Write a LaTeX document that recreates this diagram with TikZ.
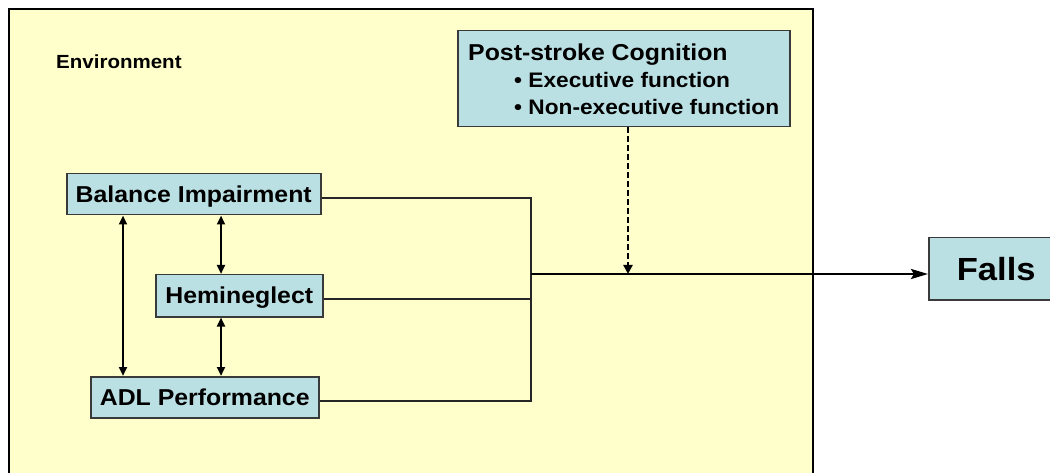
\documentclass[tikz,border=0pt]{standalone}
\usepackage{fontspec}
\setmainfont[FakeStretch=1.08]{Liberation Sans}
\usetikzlibrary{arrows.meta}
\definecolor{envyellow}{HTML}{FFFFCC}
\definecolor{boxblue}{HTML}{BBE0E3}
\definecolor{boxedge}{HTML}{3A3A3A}
\begin{document}
\begin{tikzpicture}[x=1pt,y=-1pt,
  cbox/.style={draw=boxedge, line width=1.5pt, fill=boxblue, inner sep=0pt, anchor=north west,
    text height=16.5pt, text depth=0pt,
    font=\bfseries\fontsize{23}{27}\selectfont},
  lbl/.style={inner sep=0pt, anchor=base west},
  conn/.style={draw=black!85, line width=1.8pt},
  dbl/.style={line width=2.5pt, {Triangle[length=9pt,width=8pt]}-{Triangle[length=9pt,width=8pt]}},
]
\useasboundingbox (0,0) rectangle (1050,473);
\fill[white] (0,0) rectangle (1050,473);
\draw[fill=envyellow, line width=2pt] (9,9) rectangle (813,490);

\node[lbl, font=\bfseries\fontsize{19}{22}\selectfont] (env) at (56,69) {Environment};

\node[cbox, minimum width=332pt, minimum height=96pt] (psc) at (457,30) {};
\node[lbl, font=\bfseries\fontsize{23}{27}\selectfont] (psct) at (468,61) {Post-stroke Cognition};
\node[lbl, font=\bfseries\fontsize{21}{25}\selectfont] (b1) at (514,88) {• Executive function};
\node[lbl, font=\bfseries\fontsize{21}{25}\selectfont] (b2) at (514,115) {• Non-executive function};

\node[cbox, minimum width=254pt, minimum height=41pt] (bal) at (66,173) {Balance Impairment};
\node[cbox, minimum width=167pt, minimum height=42pt] (hemi) at (155,274) {Hemineglect};
\node[cbox, minimum width=228pt, minimum height=41pt] (adl) at (90,376) {ADL Performance};
\node[cbox, minimum width=135pt, minimum height=62pt, text height=23pt,
  font=\bfseries\fontsize{32}{36}\selectfont] (falls) at (928,237) {Falls};

\coordinate (jx) at (531,274);
\coordinate (dx) at (628,0);
\coordinate (xl) at (123,0);
\coordinate (xr) at (221,0);

\draw[conn] ([yshift=-4pt]bal.east) -| (jx) |- ([yshift=-4pt]adl.east);
\draw[conn] ([yshift=-3.5pt]hemi.east) -- ([yshift=-3.5pt]hemi.east -| jx);
\draw[line width=2.5pt, -{Stealth[length=17pt,width=10pt,inset=3pt]}] (jx) -- (jx -| falls.west);
\draw[line width=2.8pt, dash pattern=on 6pt off 3pt, -{Triangle[length=9pt,width=9pt]}] (psc.south -| dx) -- (jx -| dx);

\draw[dbl] (bal.south -| xl) -- (adl.north -| xl);
\draw[dbl] (bal.south -| xr) -- (hemi.north -| xr);
\draw[dbl] (hemi.south -| xr) -- (adl.north -| xr);
\end{tikzpicture}
\end{document}
